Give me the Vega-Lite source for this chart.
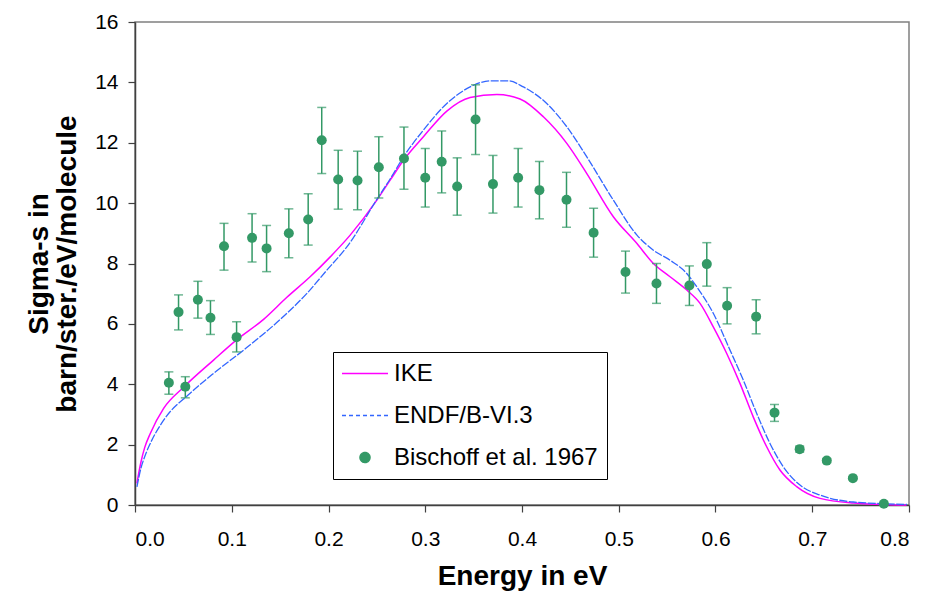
{
  "$schema": "https://vega.github.io/schema/vega-lite/v6.json",
  "width": 774,
  "height": 483,
  "autosize": "none",
  "padding": {"left": 135, "top": 22, "right": 20, "bottom": 92},
  "background": "white",
  "config": {
    "font": "Liberation Sans",
    "view": {"stroke": "#808080", "strokeWidth": 1.5},
    "axis": {
      "grid": false,
      "domainColor": "#404040",
      "domainWidth": 1.5,
      "tickColor": "#404040",
      "tickWidth": 1.2,
      "tickSize": 7,
      "labelFont": "Liberation Sans",
      "labelFontSize": 21,
      "labelColor": "#000",
      "titleFont": "Liberation Sans",
      "titleFontSize": 28,
      "titleFontWeight": "bold",
      "titleColor": "#000"
    },
    "legend": {
      "orient": "none",
      "legendX": 198,
      "legendY": 330,
      "symbolType": "stroke",
      "symbolSize": 529,
      "symbolStrokeWidth": 1.5,
      "labelFont": "Liberation Sans",
      "labelFontSize": 24,
      "labelColor": "#000",
      "labelOffset": 27,
      "labelLimit": 0,
      "strokeColor": "#000",
      "fillColor": "#fff",
      "padding": 9,
      "rowPadding": 17
    }
  },
  "datasets": {
    "curves": [
      {"series": "IKE", "x": 0.002, "y": 0.72},
      {"series": "IKE", "x": 0.006, "y": 1.4},
      {"series": "IKE", "x": 0.01, "y": 1.9},
      {"series": "IKE", "x": 0.0158, "y": 2.37},
      {"series": "IKE", "x": 0.0296, "y": 3.2},
      {"series": "IKE", "x": 0.0502, "y": 3.9},
      {"series": "IKE", "x": 0.0812, "y": 4.8},
      {"series": "IKE", "x": 0.1047, "y": 5.46},
      {"series": "IKE", "x": 0.1329, "y": 6.15},
      {"series": "IKE", "x": 0.157, "y": 6.88},
      {"series": "IKE", "x": 0.181, "y": 7.56},
      {"series": "IKE", "x": 0.2018, "y": 8.22},
      {"series": "IKE", "x": 0.2224, "y": 8.94},
      {"series": "IKE", "x": 0.25, "y": 10.1},
      {"series": "IKE", "x": 0.2637, "y": 10.76},
      {"series": "IKE", "x": 0.2775, "y": 11.42},
      {"series": "IKE", "x": 0.2981, "y": 12.2},
      {"series": "IKE", "x": 0.3223, "y": 13.05},
      {"series": "IKE", "x": 0.3464, "y": 13.5},
      {"series": "IKE", "x": 0.374, "y": 13.6},
      {"series": "IKE", "x": 0.398, "y": 13.45},
      {"series": "IKE", "x": 0.4221, "y": 12.86},
      {"series": "IKE", "x": 0.4463, "y": 11.98},
      {"series": "IKE", "x": 0.467, "y": 10.98},
      {"series": "IKE", "x": 0.4944, "y": 9.55},
      {"series": "IKE", "x": 0.5186, "y": 8.67},
      {"series": "IKE", "x": 0.5358, "y": 8.0},
      {"series": "IKE", "x": 0.553, "y": 7.56},
      {"series": "IKE", "x": 0.5703, "y": 7.12},
      {"series": "IKE", "x": 0.584, "y": 6.68},
      {"series": "IKE", "x": 0.5977, "y": 5.9},
      {"series": "IKE", "x": 0.6116, "y": 5.02},
      {"series": "IKE", "x": 0.6253, "y": 4.03},
      {"series": "IKE", "x": 0.639, "y": 2.92},
      {"series": "IKE", "x": 0.6529, "y": 1.93},
      {"series": "IKE", "x": 0.6666, "y": 1.16},
      {"series": "IKE", "x": 0.6839, "y": 0.61},
      {"series": "IKE", "x": 0.708, "y": 0.22},
      {"series": "IKE", "x": 0.7424, "y": 0.07},
      {"series": "IKE", "x": 0.7975, "y": 0.0},
      {"series": "ENDF/B-VI.3", "x": 0.002, "y": 0.6},
      {"series": "ENDF/B-VI.3", "x": 0.006, "y": 1.2},
      {"series": "ENDF/B-VI.3", "x": 0.01, "y": 1.6},
      {"series": "ENDF/B-VI.3", "x": 0.0158, "y": 2.04},
      {"series": "ENDF/B-VI.3", "x": 0.0296, "y": 2.81},
      {"series": "ENDF/B-VI.3", "x": 0.057, "y": 3.7},
      {"series": "ENDF/B-VI.3", "x": 0.0812, "y": 4.36},
      {"series": "ENDF/B-VI.3", "x": 0.1122, "y": 5.13},
      {"series": "ENDF/B-VI.3", "x": 0.157, "y": 6.35},
      {"series": "ENDF/B-VI.3", "x": 0.1777, "y": 7.01},
      {"series": "ENDF/B-VI.3", "x": 0.1983, "y": 7.78},
      {"series": "ENDF/B-VI.3", "x": 0.219, "y": 8.55},
      {"series": "ENDF/B-VI.3", "x": 0.2517, "y": 10.21},
      {"series": "ENDF/B-VI.3", "x": 0.2637, "y": 10.8},
      {"series": "ENDF/B-VI.3", "x": 0.2775, "y": 11.53},
      {"series": "ENDF/B-VI.3", "x": 0.2981, "y": 12.42},
      {"series": "ENDF/B-VI.3", "x": 0.3223, "y": 13.3},
      {"series": "ENDF/B-VI.3", "x": 0.3464, "y": 13.85},
      {"series": "ENDF/B-VI.3", "x": 0.367, "y": 14.05},
      {"series": "ENDF/B-VI.3", "x": 0.386, "y": 14.05},
      {"series": "ENDF/B-VI.3", "x": 0.4014, "y": 13.85},
      {"series": "ENDF/B-VI.3", "x": 0.4256, "y": 13.3},
      {"series": "ENDF/B-VI.3", "x": 0.4463, "y": 12.53},
      {"series": "ENDF/B-VI.3", "x": 0.467, "y": 11.53},
      {"series": "ENDF/B-VI.3", "x": 0.4944, "y": 10.1},
      {"series": "ENDF/B-VI.3", "x": 0.5186, "y": 8.95},
      {"series": "ENDF/B-VI.3", "x": 0.5358, "y": 8.44},
      {"series": "ENDF/B-VI.3", "x": 0.553, "y": 8.11},
      {"series": "ENDF/B-VI.3", "x": 0.5703, "y": 7.67},
      {"series": "ENDF/B-VI.3", "x": 0.5806, "y": 7.23},
      {"series": "ENDF/B-VI.3", "x": 0.5977, "y": 6.35},
      {"series": "ENDF/B-VI.3", "x": 0.615, "y": 5.13},
      {"series": "ENDF/B-VI.3", "x": 0.6287, "y": 4.14},
      {"series": "ENDF/B-VI.3", "x": 0.6425, "y": 3.04},
      {"series": "ENDF/B-VI.3", "x": 0.6563, "y": 2.04},
      {"series": "ENDF/B-VI.3", "x": 0.67, "y": 1.27},
      {"series": "ENDF/B-VI.3", "x": 0.6873, "y": 0.66},
      {"series": "ENDF/B-VI.3", "x": 0.708, "y": 0.33},
      {"series": "ENDF/B-VI.3", "x": 0.7424, "y": 0.1},
      {"series": "ENDF/B-VI.3", "x": 0.798, "y": 0.02}
    ],
    "pts": [
      {"series": "Bischoff et al. 1967", "x": 0.035, "y": 4.05, "lo": 3.67, "hi": 4.41},
      {"series": "Bischoff et al. 1967", "x": 0.052, "y": 3.92, "lo": 3.55, "hi": 4.25},
      {"series": "Bischoff et al. 1967", "x": 0.045, "y": 6.39, "lo": 5.8, "hi": 6.96},
      {"series": "Bischoff et al. 1967", "x": 0.065, "y": 6.8, "lo": 6.19, "hi": 7.41},
      {"series": "Bischoff et al. 1967", "x": 0.078, "y": 6.2, "lo": 5.65, "hi": 6.77},
      {"series": "Bischoff et al. 1967", "x": 0.105, "y": 5.56, "lo": 5.07, "hi": 6.07},
      {"series": "Bischoff et al. 1967", "x": 0.092, "y": 8.57, "lo": 7.78, "hi": 9.33},
      {"series": "Bischoff et al. 1967", "x": 0.121, "y": 8.85, "lo": 8.05, "hi": 9.65},
      {"series": "Bischoff et al. 1967", "x": 0.136, "y": 8.5, "lo": 7.73, "hi": 9.26},
      {"series": "Bischoff et al. 1967", "x": 0.159, "y": 9.0, "lo": 8.19, "hi": 9.81},
      {"series": "Bischoff et al. 1967", "x": 0.179, "y": 9.46, "lo": 8.61, "hi": 10.31},
      {"series": "Bischoff et al. 1967", "x": 0.193, "y": 12.08, "lo": 10.98, "hi": 13.17},
      {"series": "Bischoff et al. 1967", "x": 0.21, "y": 10.78, "lo": 9.8, "hi": 11.75},
      {"series": "Bischoff et al. 1967", "x": 0.23, "y": 10.75, "lo": 9.78, "hi": 11.72},
      {"series": "Bischoff et al. 1967", "x": 0.252, "y": 11.19, "lo": 10.17, "hi": 12.2},
      {"series": "Bischoff et al. 1967", "x": 0.278, "y": 11.48, "lo": 10.46, "hi": 12.52},
      {"series": "Bischoff et al. 1967", "x": 0.3, "y": 10.84, "lo": 9.87, "hi": 11.81},
      {"series": "Bischoff et al. 1967", "x": 0.317, "y": 11.37, "lo": 10.34, "hi": 12.39},
      {"series": "Bischoff et al. 1967", "x": 0.333, "y": 10.55, "lo": 9.6, "hi": 11.5},
      {"series": "Bischoff et al. 1967", "x": 0.352, "y": 12.77, "lo": 11.61, "hi": 13.92},
      {"series": "Bischoff et al. 1967", "x": 0.37, "y": 10.63, "lo": 9.67, "hi": 11.58},
      {"series": "Bischoff et al. 1967", "x": 0.396, "y": 10.84, "lo": 9.87, "hi": 11.81},
      {"series": "Bischoff et al. 1967", "x": 0.418, "y": 10.43, "lo": 9.48, "hi": 11.38},
      {"series": "Bischoff et al. 1967", "x": 0.446, "y": 10.11, "lo": 9.2, "hi": 11.02},
      {"series": "Bischoff et al. 1967", "x": 0.474, "y": 9.02, "lo": 8.21, "hi": 9.83},
      {"series": "Bischoff et al. 1967", "x": 0.507, "y": 7.72, "lo": 7.02, "hi": 8.41},
      {"series": "Bischoff et al. 1967", "x": 0.539, "y": 7.34, "lo": 6.68, "hi": 8.0},
      {"series": "Bischoff et al. 1967", "x": 0.573, "y": 7.27, "lo": 6.61, "hi": 7.92},
      {"series": "Bischoff et al. 1967", "x": 0.591, "y": 7.98, "lo": 7.25, "hi": 8.69},
      {"series": "Bischoff et al. 1967", "x": 0.612, "y": 6.6, "lo": 6.0, "hi": 7.2},
      {"series": "Bischoff et al. 1967", "x": 0.642, "y": 6.24, "lo": 5.67, "hi": 6.8},
      {"series": "Bischoff et al. 1967", "x": 0.661, "y": 3.06, "lo": 2.77, "hi": 3.33},
      {"series": "Bischoff et al. 1967", "x": 0.687, "y": 1.85, "lo": 1.75, "hi": 1.95},
      {"series": "Bischoff et al. 1967", "x": 0.715, "y": 1.47, "lo": 1.4, "hi": 1.54},
      {"series": "Bischoff et al. 1967", "x": 0.742, "y": 0.89, "lo": 0.85, "hi": 0.93},
      {"series": "Bischoff et al. 1967", "x": 0.774, "y": 0.04, "lo": 0.03, "hi": 0.05}
    ]
  },
  "encoding": {
    "x": {
      "field": "x", "type": "quantitative",
      "scale": {"domain": [0, 0.8], "nice": false},
      "axis": {"title": "Energy in eV", "values": [0, 0.1, 0.2, 0.3, 0.4, 0.5, 0.6, 0.7, 0.8], "format": ".1f", "labelPadding": 16, "titleY": 79, "titleBaseline": "alphabetic"}
    }
  },
  "layer": [
    {
      "data": {"name": "curves"},
      "transform": [{"filter": "datum.series === 'IKE'"}],
      "mark": {"type": "line", "strokeWidth": 1.5, "interpolate": "monotone"},
      "encoding": {
        "y": {"field": "y", "type": "quantitative", "scale": {"domain": [0, 16], "nice": false},
          "axis": {"title": ["Sigma-s in", "barn/ster./eV/molecule"], "values": [0, 2, 4, 6, 8, 10, 12, 14, 16], "labelPadding": 10, "titleX": -96, "titleY": 241.5, "titleAlign": "center", "titleBaseline": "middle", "titleLineHeight": 28, "titleAngle": -90}},
        "color": {
          "field": "series", "type": "nominal",
          "scale": {"domain": ["IKE", "ENDF/B-VI.3", "Bischoff et al. 1967"], "range": ["#ff00ff", "#3366ff", "#339966"]},
          "legend": {
            "title": null,
            "encode": {
              "symbols": {
                "update": {
                  "x": {"value": 23},
                  "shape": {"signal": "datum.value === 'Bischoff et al. 1967' ? 'circle' : 'M-2,0H2'"},
                  "size": {"signal": "datum.value === 'Bischoff et al. 1967' ? 100 : 529"},
                  "fill": {"signal": "datum.value === 'Bischoff et al. 1967' ? '#339966' : 'transparent'"},
                  "stroke": {"signal": "datum.value === 'IKE' ? '#ff00ff' : (datum.value === 'ENDF/B-VI.3' ? '#3366ff' : 'transparent')"},
                  "strokeDash": {"signal": "datum.value === 'ENDF/B-VI.3' ? [4, 3] : [1, 0]"},
                  "strokeWidth": {"value": 1.5},
                  "opacity": {"value": 1}
                }
              }
            }
          }
        }
      }
    },
    {
      "data": {"name": "curves"},
      "transform": [{"filter": "datum.series === 'ENDF/B-VI.3'"}],
      "mark": {"type": "line", "strokeWidth": 1.3, "strokeDash": [8, 1.5], "interpolate": "monotone"},
      "encoding": {
        "y": {"field": "y", "type": "quantitative"},
        "color": {"field": "series", "type": "nominal"}
      }
    },
    {
      "data": {"name": "pts"},
      "mark": {"type": "rule", "color": "#339966", "strokeWidth": 1.5},
      "encoding": {
        "y": {"field": "lo", "type": "quantitative"},
        "y2": {"field": "hi"}
      }
    },
    {
      "data": {"name": "pts"},
      "mark": {"type": "tick", "color": "#339966", "orient": "horizontal", "size": 9, "thickness": 1.5},
      "encoding": {
        "y": {"field": "lo", "type": "quantitative"}
      }
    },
    {
      "data": {"name": "pts"},
      "mark": {"type": "tick", "color": "#339966", "orient": "horizontal", "size": 9, "thickness": 1.5},
      "encoding": {
        "y": {"field": "hi", "type": "quantitative"}
      }
    },
    {
      "data": {"name": "pts"},
      "mark": {"type": "point", "filled": true, "opacity": 1, "size": 100},
      "encoding": {
        "y": {"field": "y", "type": "quantitative"},
        "color": {"field": "series", "type": "nominal"}
      }
    }
  ]
}
